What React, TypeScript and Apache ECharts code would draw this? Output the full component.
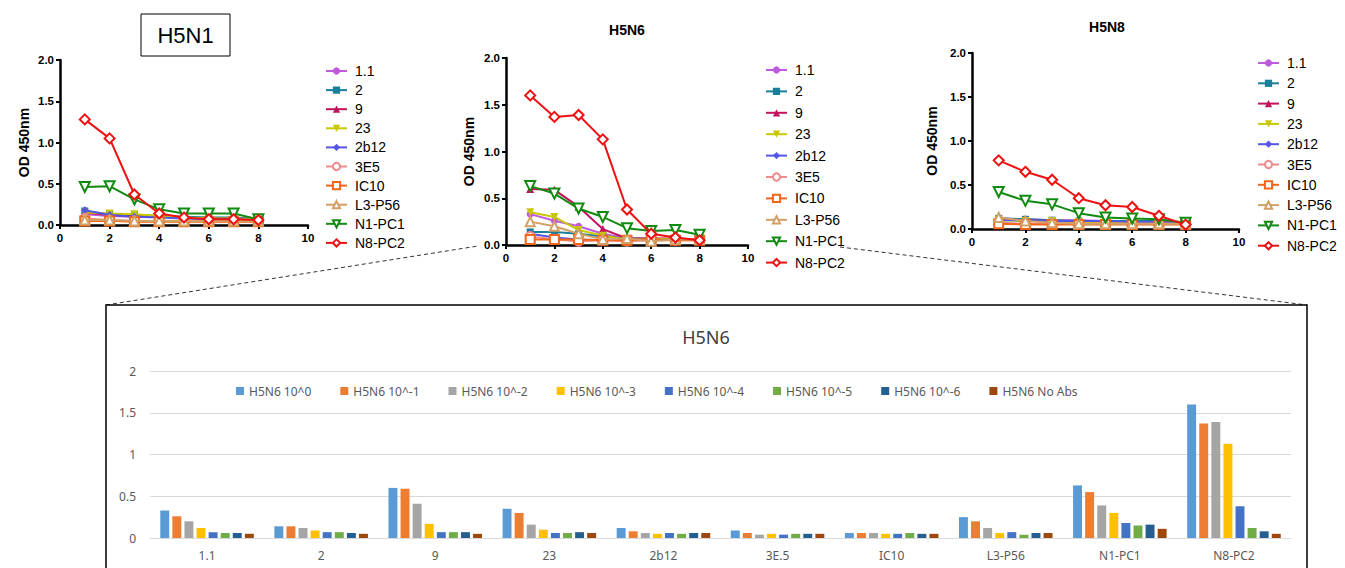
import React, { useEffect, useRef } from "react";
import * as echarts from "echarts";

// Dilution steps (x values of the line panels)
const dilutionSteps = [1, 2, 3, 4, 5, 6, 7, 8];

// Antibody names (legend of the line panels)
const antibodies = ["1.1", "2", "9", "23", "2b12", "3E5", "IC10", "L3-P56", "N1-PC1", "N8-PC2"];

// Bar chart categories
const barCategories = ["1.1", "2", "9", "23", "2b12", "3E.5", "IC10", "L3-P56", "N1-PC1", "N8-PC2"];

// Bar chart series names (dilutions)
const dilutionNames = [
  "H5N6 10^0", "H5N6 10^-1", "H5N6 10^-2", "H5N6 10^-3",
  "H5N6 10^-4", "H5N6 10^-5", "H5N6 10^-6", "H5N6 No Abs",
];

// OD 450nm per antibody (rows follow `antibodies`), 8 dilution steps each
const h5n1OD = [
  [0.13, 0.11, 0.1, 0.1, 0.09, 0.08, 0.08, 0.07],
  [0.17, 0.13, 0.12, 0.11, 0.1, 0.09, 0.09, 0.07],
  [0.15, 0.12, 0.11, 0.1, 0.09, 0.08, 0.08, 0.07],
  [0.15, 0.14, 0.13, 0.11, 0.09, 0.08, 0.08, 0.07],
  [0.18, 0.12, 0.1, 0.09, 0.08, 0.07, 0.07, 0.06],
  [0.08, 0.06, 0.05, 0.05, 0.05, 0.05, 0.05, 0.05],
  [0.05, 0.05, 0.04, 0.04, 0.04, 0.04, 0.04, 0.04],
  [0.06, 0.06, 0.05, 0.05, 0.05, 0.05, 0.05, 0.05],
  [0.46, 0.47, 0.31, 0.19, 0.14, 0.14, 0.14, 0.07],
  [1.28, 1.05, 0.37, 0.14, 0.09, 0.07, 0.07, 0.06],
];

const h5n6OD = [
  [0.33, 0.26, 0.2, 0.12, 0.07, 0.06, 0.06, 0.05],
  [0.14, 0.14, 0.12, 0.09, 0.07, 0.07, 0.06, 0.05],
  [0.6, 0.59, 0.41, 0.17, 0.07, 0.07, 0.07, 0.05],
  [0.35, 0.3, 0.16, 0.1, 0.06, 0.06, 0.07, 0.06],
  [0.12, 0.08, 0.06, 0.05, 0.06, 0.05, 0.06, 0.06],
  [0.09, 0.06, 0.04, 0.05, 0.04, 0.05, 0.05, 0.05],
  [0.06, 0.06, 0.06, 0.05, 0.05, 0.06, 0.05, 0.05],
  [0.25, 0.2, 0.12, 0.06, 0.07, 0.04, 0.06, 0.06],
  [0.63, 0.55, 0.39, 0.3, 0.18, 0.15, 0.16, 0.11],
  [1.6, 1.37, 1.39, 1.13, 0.38, 0.12, 0.08, 0.05],
];

const h5n8OD = [
  [0.12, 0.11, 0.1, 0.1, 0.09, 0.09, 0.08, 0.07],
  [0.12, 0.11, 0.1, 0.09, 0.09, 0.09, 0.09, 0.07],
  [0.11, 0.1, 0.09, 0.08, 0.08, 0.08, 0.08, 0.07],
  [0.1, 0.09, 0.09, 0.08, 0.08, 0.08, 0.07, 0.06],
  [0.1, 0.1, 0.09, 0.09, 0.09, 0.08, 0.08, 0.07],
  [0.07, 0.06, 0.06, 0.06, 0.06, 0.06, 0.06, 0.06],
  [0.06, 0.05, 0.05, 0.05, 0.05, 0.05, 0.05, 0.05],
  [0.13, 0.09, 0.07, 0.06, 0.06, 0.06, 0.06, 0.06],
  [0.42, 0.32, 0.28, 0.18, 0.13, 0.12, 0.11, 0.07],
  [0.78, 0.65, 0.56, 0.35, 0.27, 0.25, 0.15, 0.05],
];

const lineColors = ["#C05ADC", "#1A7F9C", "#C2135C", "#C8C800", "#5555E6", "#F08A8A", "#F26418", "#D2A064", "#108A10", "#EE1111"];
const lineSymbols = ["circle", "rect", "triangle", "triangle", "diamond", "emptyCircle", "emptyRect", "emptyTriangle", "emptyTriangle", "emptyDiamond"];
const lineSymbolRotate = [0, 0, 0, 180, 0, 0, 0, 0, 180, 0];
const lineSymbolSize = [7, 7, 8, 8, 8, 9, 9, 9, 10, 10];

const barColors = ["#5B9BD5", "#ED7D31", "#A5A5A5", "#FFC000", "#4472C4", "#70AD47", "#255E91", "#9E480E"];

const FONT = "'Liberation Sans', Arial, sans-serif";
const BARFONT = "'Noto Sans', 'Liberation Sans', sans-serif";

export default function App() {
  const ref = useRef<HTMLDivElement>(null);

  useEffect(() => {
    if (!ref.current) return;
    const chart = echarts.init(ref.current, undefined, { renderer: "svg" });

    const panels = [
      { od: h5n1OD, grid: { left: 60, top: 60, width: 248, height: 165 }, nameGap: 29, legend: { left: 325, top: 64, gap: 5.1 } },
      { od: h5n6OD, grid: { left: 506, top: 58, width: 242, height: 187 }, nameGap: 30, legend: { left: 765, top: 63, gap: 7.4 } },
      { od: h5n8OD, grid: { left: 972, top: 53, width: 267, height: 176 }, nameGap: 33, legend: { left: 1257, top: 56, gap: 6.3 } },
    ];

    const grids: any[] = panels.map((p) => p.grid);
    grids.push({ left: 150, top: 371, width: 1141, height: 167 });

    const xAxes: any[] = panels.map((p, i) => ({
      type: "value",
      gridIndex: i,
      min: 0,
      max: 10,
      interval: 2,
      axisLine: { show: true, lineStyle: { color: "#000", width: 2.5 } },
      axisTick: { show: true, length: 4, lineStyle: { color: "#000", width: 2 } },
      axisLabel: { color: "#000", fontWeight: "bold", fontSize: 11.5, fontFamily: FONT, margin: 7 },
      splitLine: { show: false },
    }));
    xAxes.push({
      type: "category",
      gridIndex: 3,
      data: barCategories,
      axisLine: { show: true, lineStyle: { color: "#D9D9D9", width: 1 } },
      axisTick: { show: false },
      axisLabel: { color: "#595959", fontSize: 12, fontFamily: BARFONT, margin: 11 },
    });

    const yAxes: any[] = panels.map((p, i) => ({
      type: "value",
      gridIndex: i,
      min: 0,
      max: 2,
      interval: 0.5,
      name: "OD 450nm",
      nameLocation: "middle",
      nameGap: p.nameGap,
      nameTextStyle: { color: "#000", fontWeight: "bold", fontSize: 14, fontFamily: FONT },
      axisLine: { show: true, lineStyle: { color: "#000", width: 2.5 } },
      axisTick: { show: true, length: 4, lineStyle: { color: "#000", width: 2 } },
      axisLabel: { color: "#000", fontWeight: "bold", fontSize: 11.5, fontFamily: FONT, margin: 6, formatter: (v: number) => v.toFixed(1) },
      splitLine: { show: false },
    }));
    yAxes.push({
      type: "value",
      gridIndex: 3,
      min: 0,
      max: 2,
      interval: 0.5,
      axisLine: { show: false },
      axisTick: { show: false },
      axisLabel: { color: "#595959", fontSize: 12, fontFamily: BARFONT, margin: 14 },
      splitLine: { show: true, lineStyle: { color: "#D9D9D9", width: 1 } },
    });

    const series: any[] = [];
    panels.forEach((p, pi) => {
      antibodies.forEach((name, ai) => {
        series.push({
          type: "line",
          name,
          xAxisIndex: pi,
          yAxisIndex: pi,
          data: dilutionSteps.map((x, k) => [x, p.od[ai][k]]),
          symbol: lineSymbols[ai],
          symbolRotate: lineSymbolRotate[ai],
          symbolSize: lineSymbolSize[ai],
          color: lineColors[ai],
          lineStyle: { width: 2, color: lineColors[ai] },
          itemStyle: { color: lineColors[ai], borderWidth: 2 },
          z: 2 + ai,
        });
      });
    });

    dilutionNames.forEach((name, di) => {
      series.push({
        type: "bar",
        name,
        xAxisIndex: 3,
        yAxisIndex: 3,
        data: h5n6OD.map((row) => row[di]),
        itemStyle: { color: barColors[di] },
        barGap: "35%",
        barCategoryGap: "18%",
      });
    });

    const legends: any[] = panels.map((p) => ({
      orient: "vertical",
      left: p.legend.left,
      top: p.legend.top,
      padding: 0,
      itemWidth: 21,
      itemHeight: 9,
      itemGap: p.legend.gap,
      textStyle: { fontSize: 14, lineHeight: 14, color: "#000", fontFamily: FONT, padding: [0, 0, 0, 3] },
      data: antibodies,
      selectedMode: false,
    }));
    legends.push({
      orient: "horizontal",
      left: 236,
      top: 384,
      padding: 0,
      itemWidth: 8,
      itemHeight: 8,
      itemGap: 29,
      icon: "rect",
      textStyle: { fontSize: 12, lineHeight: 14, color: "#595959", fontFamily: BARFONT },
      data: dilutionNames,
      selectedMode: false,
    });

    const graphic: any[] = [
      { type: "rect", shape: { x: 141, y: 14, width: 89, height: 42 }, style: { fill: "#fff", stroke: "#000", lineWidth: 1 }, z: 1 },
      { type: "text", x: 185.5, y: 35, style: { text: "H5N1", fill: "#000", fontSize: 22, fontFamily: FONT, align: "center", verticalAlign: "middle" }, z: 2 },
      { type: "text", x: 627, y: 30, style: { text: "H5N6", fill: "#000", fontSize: 14, fontWeight: "bold", fontFamily: FONT, align: "center", verticalAlign: "middle" } },
      { type: "text", x: 1107, y: 27, style: { text: "H5N8", fill: "#000", fontSize: 14, fontWeight: "bold", fontFamily: FONT, align: "center", verticalAlign: "middle" } },
      { type: "rect", shape: { x: 106, y: 305, width: 1201, height: 280 }, style: { fill: "none", stroke: "#000", lineWidth: 1.5 }, z: 1 },
      { type: "text", x: 706, y: 337, style: { text: "H5N6", fill: "#404040", fontSize: 18, fontFamily: BARFONT, align: "center", verticalAlign: "middle" } },
      { type: "line", shape: { x1: 106, y1: 305, x2: 478, y2: 246 }, style: { stroke: "#333", lineWidth: 1, lineDash: [4, 3] } },
      { type: "line", shape: { x1: 840, y1: 247, x2: 1307, y2: 305 }, style: { stroke: "#333", lineWidth: 1, lineDash: [4, 3] } },
    ];

    chart.setOption({
      animation: false,
      backgroundColor: "#fff",
      grid: grids,
      xAxis: xAxes,
      yAxis: yAxes,
      legend: legends,
      series,
      graphic,
    });

    return () => chart.dispose();
  }, []);

  return <div ref={ref} style={{ position: "absolute", left: 0, top: 0, width: 1345, height: 568 }} />;
}
